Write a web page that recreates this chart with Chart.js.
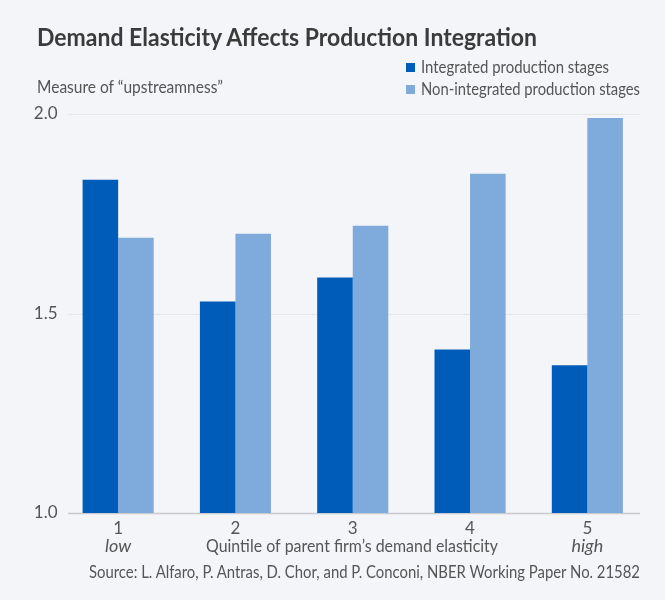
<!DOCTYPE html>
<html>
<head>
<meta charset="utf-8">
<script src="https://cdn.jsdelivr.net/npm/chart.js@4"></script>
<style>
  html, body { margin: 0; padding: 0; background: #f3f5f9; }
  #wrap { position: relative; width: 665px; height: 600px; background: #f3f5f9; font-family: Lato, "Open Sans", sans-serif; }
  canvas { position: absolute; left: 0; top: 0; }
  .txt { position: absolute; white-space: nowrap; color: #555; transform-origin: 0 50%; line-height: 1; }
  #title { left: 37px; top: 24px; font-size: 25px; font-weight: bold; color: #3b3b3b; }
  #ylab { left: 37px; top: 78px; font-size: 17px; color: #555; }
  #source { left: 89px; top: 563px; font-size: 17px; color: #555; }
  .leg { left: 421px; font-size: 17px; color: #555; }
  .sw { position: absolute; left: 406px; width: 9px; height: 9px; }
</style>
</head>
<body>
<div id="wrap">
  <canvas id="c" width="665" height="600"></canvas>
  <div class="txt" id="title" data-w="500">Demand Elasticity Affects Production Integration</div>
  <div class="txt" id="ylab" data-w="186">Measure of “upstreamness”</div>
  <div class="txt" id="source" data-w="551">Source: L. Alfaro, P. Antras, D. Chor, and P. Conconi, NBER Working Paper No. 21582</div>
</div>
<script>
const categories = ["1", "2", "3", "4", "5"];
const subLabels = ["low", "", "", "", "high"];
const integrated = [1.835, 1.53, 1.59, 1.41, 1.37];
const nonIntegrated = [1.69, 1.70, 1.72, 1.85, 1.99];
const seriesNames = ["Integrated production stages", "Non-integrated production stages"];
const yTicks = [1.0, 1.5, 2.0];
const xTitle = "Quintile of parent firm’s demand elasticity";

const FONT = 'Lato, "Open Sans", sans-serif';
const colors = ["#005cb9", "#7faadc"];

function fitText(ctx, text, cx, cy, targetW) {
  const w = ctx.measureText(text).width;
  const s = targetW / w;
  ctx.save();
  ctx.translate(cx, cy);
  ctx.scale(s, 1);
  ctx.fillText(text, 0, 0);
  ctx.restore();
}

const gridPlugin = {
  id: 'customGrid',
  beforeDatasetsDraw(chart) {
    const ctx = chart.ctx, y = chart.scales.y;
    ctx.save();
    yTicks.forEach(v => {
      const py = Math.round(y.getPixelForValue(v)) + 0.5;
      ctx.strokeStyle = v === yTicks[0] ? '#c9cbd0' : '#e4e6ea';
      ctx.lineWidth = v === yTicks[0] ? 1.5 : 1;
      ctx.beginPath(); ctx.moveTo(68, py); ctx.lineTo(640, py); ctx.stroke();
    });
    ctx.restore();
  },
  afterDraw(chart) {
    const ctx = chart.ctx, x = chart.scales.x, y = chart.scales.y;
    ctx.save();
    ctx.fillStyle = '#555';
    ctx.font = 'italic 18px ' + FONT;
    ctx.textAlign = 'center'; ctx.textBaseline = 'middle';
    const base = y.getPixelForValue(yTicks[0]);
    subLabels.forEach((s, i) => {
      if (s) ctx.fillText(s, x.getPixelForValue(i), base + 33);
    });
    ctx.font = '18px ' + FONT;
    fitText(ctx, xTitle, 352, base + 33, 292);
    ctx.restore();
  }
};

const chart = new Chart(document.getElementById('c'), {
  type: 'bar',
  data: {
    labels: categories,
    datasets: [
      { label: seriesNames[0], data: integrated, backgroundColor: colors[0] },
      { label: seriesNames[1], data: nonIntegrated, backgroundColor: colors[1] }
    ]
  },
  options: {
    responsive: false,
    animation: false,
    devicePixelRatio: 1,
    layout: { padding: { top: 114, right: 19, left: 0, bottom: 0 } },
    datasets: { bar: { categoryPercentage: 0.606, barPercentage: 1.0, borderWidth: 0 } },
    plugins: { legend: { display: false }, tooltip: { enabled: false } },
    scales: {
      x: {
        grid: { display: false, drawTicks: false },
        border: { display: false },
        ticks: { color: '#555', font: { family: FONT, size: 17 }, padding: 5 },
        afterFit(s) { s.height = 87; }
      },
      y: {
        min: 1, max: 2,
        afterBuildTicks(s) { s.ticks = yTicks.map(v => ({ value: v })); },
        grid: { display: false, drawTicks: false },
        border: { display: false },
        ticks: { color: '#555', font: { family: FONT, size: 17 }, padding: 2, callback: v => Number(v).toFixed(1) },
        afterFit(s) { s.width = 59.5; }
      }
    }
  },
  plugins: [gridPlugin]
});

const wrap = document.getElementById('wrap');
const legW = [188, 219];
chart.data.datasets.forEach((ds, i) => {
  const top = 67 + i * 22;
  const sw = document.createElement('div'); sw.className = 'sw';
  sw.style.background = ds.backgroundColor; sw.style.top = (top - 4.5) + 'px';
  const t = document.createElement('div'); t.className = 'txt leg';
  t.textContent = ds.label; t.dataset.w = legW[i]; t.style.top = (top - 9.5) + 'px';
  wrap.appendChild(sw); wrap.appendChild(t);
});

document.querySelectorAll('.txt[data-w]').forEach(el => {
  const w = el.getBoundingClientRect().width;
  el.style.transform = 'scaleX(' + (parseFloat(el.dataset.w) / w) + ')';
});
</script>
</body>
</html>
